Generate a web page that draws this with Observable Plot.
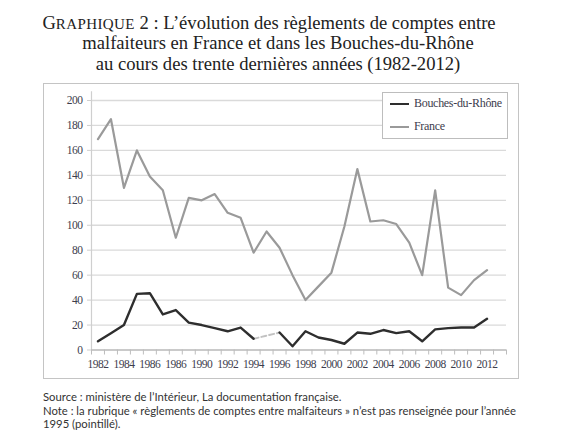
<!DOCTYPE html>
<html><head><meta charset="utf-8">
<script src="https://cdn.jsdelivr.net/npm/d3@7"></script>
<script src="https://cdn.jsdelivr.net/npm/@observablehq/plot@0.6"></script>
<style>
body{margin:0;background:#fff;}
#wrap{position:relative;width:570px;height:443px;overflow:hidden;background:#fff;}
#title{position:absolute;left:-12px;top:11.5px;width:580px;text-align:center;font-family:'Liberation Serif',serif;font-size:18.6px;line-height:20.7px;color:#222;white-space:nowrap;}
#title .l1{position:relative;left:-9px;}
.sc{font-variant:small-caps;font-size:21px;letter-spacing:0.4px;}
#frame{position:absolute;left:43px;top:83px;width:476px;height:296px;border:1px solid #c4c4c4;box-sizing:border-box;}
#chart{position:absolute;left:0;top:83px;}
#legend{position:absolute;left:382px;top:92px;width:126px;height:47px;border:1px solid #bdbdbd;box-sizing:border-box;background:#fff;font-family:'Liberation Serif',serif;font-size:12px;letter-spacing:-0.3px;color:#3d3d4d;}
#legend .row{position:absolute;left:7px;white-space:nowrap;}
#legend .sw{display:inline-block;width:19px;vertical-align:middle;margin-right:5px;}
#caption{position:absolute;left:43px;top:390px;font-family:Lato,sans-serif;font-size:11.3px;line-height:13.6px;color:#333;white-space:nowrap;}
</style>
</head><body>
<div id="wrap">
  <div id="title"><div class="l1">G<span class="sc">raphique</span> 2 : L’évolution des règlements de comptes entre</div><div>malfaiteurs en France et dans les Bouches-du-Rhône</div><div>au cours des trente dernières années (1982-2012)</div></div>
  <div id="frame"></div>
  <div id="chart"></div>
  <div id="legend"></div>
  <div id="caption">Source : ministère de l’Intérieur, La documentation française.<br>Note : la rubrique « règlements de comptes entre malfaiteurs » n’est pas renseignée pour l’année<br>1995 (pointillé).</div>
</div>
<script>
const years = [1982,1983,1984,1985,1986,1987,1988,1989,1990,1991,1992,1993,1994,1995,1996,1997,1998,1999,2000,2001,2002,2003,2004,2005,2006,2007,2008,2009,2010,2011,2012];
const france = [169,185,130,160,139,128,90,122,120,125,110,106,78,95,82,60,40,51,62,99,145,103,104,101,86,60,128,50,44,56,64];
const bouches = [7,13.5,20,45,45.5,28.5,32,22,20,17.5,15,18,9,null,14,3,15,10,8,5,14,13,16,13.5,15,7,16.5,17.5,18,18,25];
const seriesNames = ["Bouches-du-Rhône","France"];
const seriesColors = ["#2e2e2e","#9a9a9a"];
const yTicks = [0,20,40,60,80,100,120,140,160,180,200];
const labelYears = [1982,1984,1986,1988,1990,1992,1994,1996,1998,2000,2002,2004,2006,2008,2010,2012];
const xTickLabels = ["1982","1984","1986","1986","1990","1992","1994","1996","1998","2000","2002","2004","2006","2008","2010","2012"];
const xDomainYears = [1981.5, 2013.5];

const rows = years.map((y,i)=>({year:y, france:france[i], bouches:bouches[i]}));
const gi = bouches.indexOf(null);
const gap = [rows[gi-1], rows[gi+1]];
const bounds = d3.range(xDomainYears[0], xDomainYears[1] + 0.5, 1);

const plot = Plot.plot({
  width:570, height:296,
  marginLeft:91, marginRight:64, marginTop:17, marginBottom:29.5,
  x:{type:"linear", domain:xDomainYears},
  y:{domain:[0,200]},
  style:{fontFamily:"Liberation Serif", fontSize:"11.5px", color:"#3d3d4d", background:"transparent", overflow:"visible"},
  marks:[
    Plot.ruleY(yTicks.filter(d=>d>0), {stroke:"#dadada", strokeWidth:1.3}),
    Plot.ruleX([xDomainYears[0]], {y1:0, y2:207, stroke:"#cfcfcf", strokeWidth:1.2}),
    Plot.axisY({ticks:yTicks, tickSize:4, tickPadding:5, label:null, stroke:"#cfcfcf", fill:"#3d3d4d"}),
    Plot.ruleY([0], {stroke:"#b8b8b8", strokeWidth:1.3}),
    Plot.axisX({ticks:bounds, tickSize:5, tickFormat:()=>"", label:null, stroke:"#bdbdbd"}),
    Plot.axisX({ticks:labelYears, tickSize:0, tickPadding:10, tickFormat:d=>xTickLabels[labelYears.indexOf(d)], label:null, fill:"#3d3d4d"}),
    Plot.line(rows, {x:"year", y:"france", stroke:seriesColors[1], strokeWidth:2.2}),
    Plot.line(gap, {x:"year", y:"bouches", stroke:"#c2c2c2", strokeWidth:2, strokeDasharray:"5,3"}),
    Plot.line(rows, {x:"year", y:"bouches", stroke:seriesColors[0], strokeWidth:2.4})
  ]
});
d3.select(plot).selectAll("text")
  .attr("font-family", "Liberation Serif")
  .attr("letter-spacing", "-0.5");
document.getElementById("chart").appendChild(plot);

const lg = document.getElementById("legend");
seriesNames.forEach((n,i)=>{
  const r = document.createElement("div");
  r.className = "row";
  r.style.top = (i===0 ? 3 : 26) + "px";
  r.innerHTML = `<span class="sw" style="border-top:${i===0?2.4:2}px solid ${seriesColors[i]}"></span>${n}`;
  lg.appendChild(r);
});
</script>
</body></html>
